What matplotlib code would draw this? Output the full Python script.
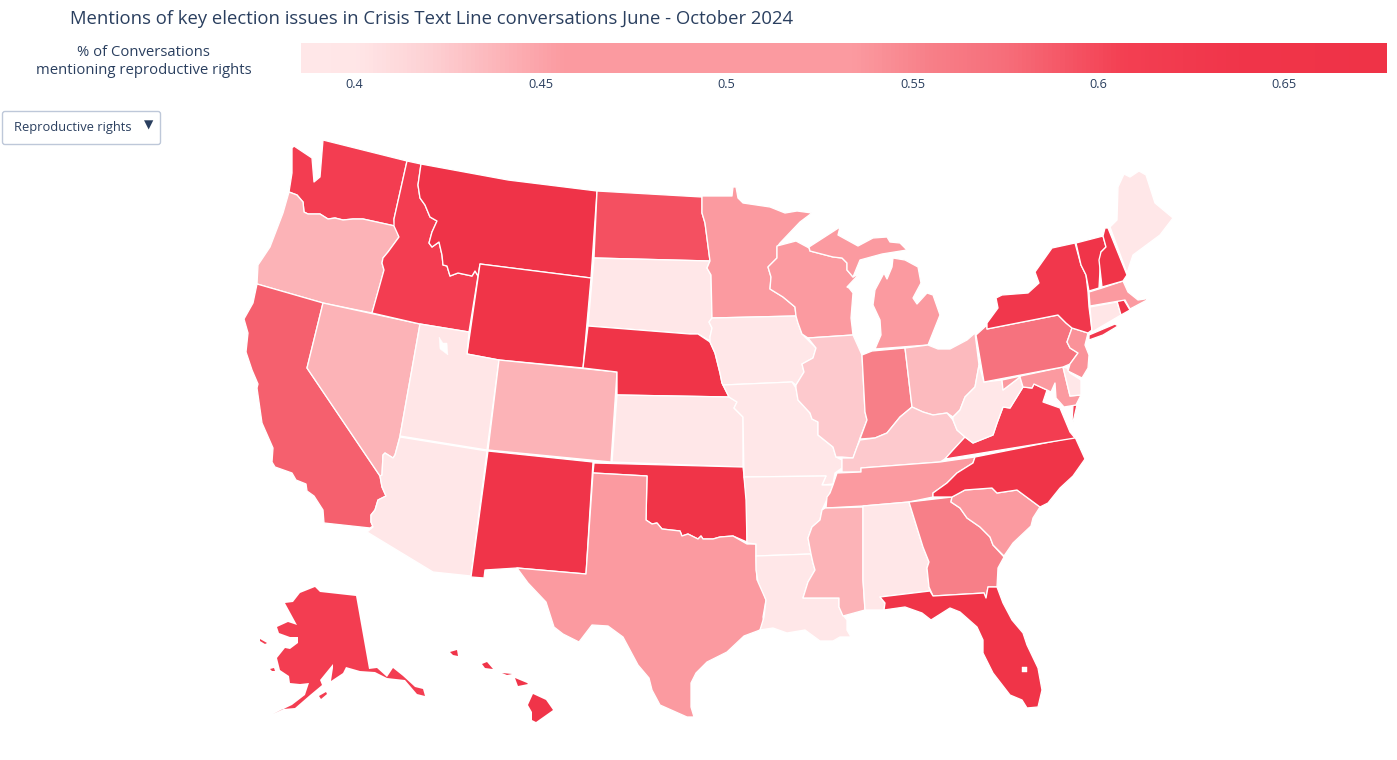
import matplotlib
matplotlib.use("Agg")
import matplotlib.pyplot as plt
import numpy as np
from matplotlib.cm import ScalarMappable
from matplotlib.colors import LinearSegmentedColormap, Normalize
from matplotlib.patches import FancyBboxPatch, Polygon

plt.rcParams["font.family"] = ["Open Sans", "DejaVu Sans"]

TEXT_COLOR = "#2a3f5f"

# share of conversations per state
state_codes = ["WA", "OR", "CA", "NV", "ID", "MT", "WY", "UT", "AZ", "CO", "NM", "ND", "SD", "NE", "KS", "OK",
               "TX", "MN", "IA", "MO", "AR", "LA", "WI", "IL", "MI", "IN", "OH", "KY", "TN", "MS", "AL", "GA",
               "FL", "SC", "NC", "VA", "WV", "MD", "DE", "PA", "NJ", "NY", "CT", "RI", "MA", "VT", "NH", "ME",
               "AK", "HI"]
state_values = [0.612, 0.44, 0.585, 0.44, 0.612, 0.66, 0.65, 0.395, 0.392, 0.44, 0.64, 0.595, 0.393, 0.65, 0.392, 0.65,
                0.48, 0.46, 0.392, 0.392, 0.392, 0.39, 0.48, 0.425, 0.48, 0.555, 0.435, 0.425, 0.485, 0.44, 0.392, 0.555,
                0.65, 0.49, 0.65, 0.612, 0.392, 0.49, 0.39, 0.57, 0.54, 0.63, 0.395, 0.65, 0.475, 0.64, 0.65, 0.39,
                0.612, 0.64]

# colour scale stops
scale_min = 0.3856
scale_max = 0.6776
scale_stops = [0.3856, 0.40, 0.42, 0.456, 0.534, 0.555, 0.575, 0.607, 0.64, 0.6776]
scale_colors = ["#ffe7e8", "#ffe6e7", "#fdd0d3", "#fb9aa0", "#fb9aa0", "#f77f88", "#f66e7a", "#f33f52", "#f03449",
                "#ef3347"]
colorbar_ticks = [0.4, 0.45, 0.5, 0.55, 0.6, 0.65]
colorbar_labels = ["0.4", "0.45", "0.5", "0.55", "0.6", "0.65"]

# state outlines (map geometry, traced in projected map units)
outlines = {
    "WA": [[(292, 148), (294, 146), (312, 158), (314, 182), (320, 177), (323, 140), (407, 161), (394, 219), (395, 226),
            (363, 219), (353, 219), (343, 220), (335, 218), (328, 219), (320, 214), (308, 214), (304, 212), (303, 202),
            (297, 195), (289, 192), (292, 173)]],
    "OR": [[(289, 192), (297, 195), (303, 202), (304, 212), (308, 214), (320, 214), (328, 219), (335, 218), (343, 220),
            (353, 219), (363, 219), (395, 226), (399, 237), (388, 252), (383, 258), (382, 263), (384, 270), (380, 285),
            (372, 313), (323, 303), (257, 284), (258, 265), (270, 247), (283, 213)]],
    "CA": [[(257, 284), (323, 303), (307, 368), (380, 476), (382, 487), (386, 496), (378, 500), (375, 510), (371, 515),
            (371, 522), (373, 526), (370, 528), (324, 523), (323, 510), (314, 496), (307, 491), (306, 484), (296, 480),
            (292, 473), (275, 467), (272, 462), (273, 448), (262, 423), (257, 388), (258, 384), (252, 370), (246, 352),
            (248, 333), (244, 319), (253, 303)]],
    "NV": [[(323, 303), (420, 324), (400, 436), (395, 455), (393, 458), (385, 453), (383, 455), (382, 475), (380, 476),
            (307, 368)]],
    "ID": [[(407, 161), (421, 164), (418, 185), (420, 198), (425, 205), (430, 217), (437, 221), (432, 232), (429, 243),
            (432, 247), (439, 242), (442, 255), (443, 265), (447, 266), (450, 276), (458, 273), (472, 276), (475, 271),
            (478, 276), (469, 332), (420, 324), (372, 313), (384, 270), (382, 263), (383, 258), (388, 252), (399, 237),
            (394, 226), (394, 219)]],
    "MT": [[(421, 164), (508, 180), (597, 191), (591, 278), (480, 264), (478, 276), (475, 271), (472, 276), (458, 273),
            (450, 276), (447, 266), (443, 265), (442, 255), (439, 242), (432, 247), (429, 243), (432, 232), (437, 221),
            (430, 217), (425, 205), (420, 198), (418, 185)]],
    "WY": [[(480, 264), (591, 278), (583, 368), (499, 360), (467, 354)]],
    "UT": [[(420, 324), (469, 332), (467, 354), (499, 360), (487, 450), (400, 436)]],
    "AZ": [[(400, 437), (487, 451), (471, 576), (433, 572), (367, 532), (373, 527), (371, 522), (371, 515), (375, 510),
            (378, 500), (386, 496), (382, 487), (380, 476), (382, 475), (383, 455), (385, 453), (393, 458), (395, 455)]],
    "CO": [[(499, 360), (617, 372), (611, 462), (488, 450)]],
    "NM": [[(488, 451), (593, 462), (586, 574), (517, 568), (485, 570), (484, 578), (471, 577)]],
    "ND": [[(597, 191), (702, 197), (702, 213), (705, 223), (710, 261), (594, 258)]],
    "SD": [[(594, 258), (710, 261), (707, 268), (711, 275), (712, 318), (709, 322), (712, 328), (710, 337), (712, 342),
            (698, 334), (690, 334), (588, 326)]],
    "NE": [[(588, 326), (690, 334), (698, 334), (710, 342), (715, 353), (720, 373), (722, 383), (729, 397), (617, 395),
            (617, 372), (583, 368)]],
    "KS": [[(617, 395), (729, 397), (737, 402), (734, 408), (743, 417), (743, 467), (612, 462)]],
    "OK": [[(594, 463), (743, 467), (747, 500), (747, 542), (733, 536), (720, 537), (713, 539), (703, 539), (701, 536),
            (698, 539), (688, 534), (682, 536), (680, 531), (662, 529), (657, 523), (652, 524), (646, 520), (647, 476),
            (593, 473)]],
    "TX": [[(593, 473), (647, 476), (646, 520), (652, 524), (657, 523), (662, 529), (680, 531), (682, 536), (688, 534),
            (698, 539), (701, 536), (703, 539), (713, 539), (720, 537), (733, 536), (747, 544), (756, 544), (756, 560),
            (757, 580), (760, 583), (766, 600), (763, 617), (764, 623), (760, 630), (744, 636), (727, 652), (707, 662),
            (696, 673), (691, 683), (691, 707), (694, 717), (687, 717), (660, 705), (652, 690), (649, 678), (638, 665),
            (623, 637), (608, 626), (592, 625), (579, 642), (563, 634), (554, 627), (546, 602), (528, 583), (517, 568),
            (586, 574)]],
    "MN": [[(702, 196), (732, 196), (733, 187), (736, 187), (738, 198), (743, 203), (770, 207), (785, 213), (797, 211),
            (812, 213), (800, 222), (780, 243), (777, 247), (777, 258), (768, 267), (771, 277), (770, 289), (783, 297),
            (795, 307), (796, 316), (712, 318), (711, 275), (707, 268), (710, 261), (705, 223), (702, 213)]],
    "IA": [[(712, 318), (796, 316), (798, 323), (802, 334), (816, 348), (813, 358), (802, 364), (804, 372), (796, 385),
            (792, 382), (723, 385), (722, 383), (720, 373), (715, 353), (710, 342), (710, 337), (712, 328), (709, 322)]],
    "MO": [[(723, 385), (792, 382), (796, 388), (798, 400), (810, 413), (812, 419), (818, 422), (818, 435), (833, 447),
            (836, 457), (842, 460), (842, 468), (835, 473), (833, 484), (822, 485), (826, 476), (744, 477), (743, 417),
            (734, 408), (737, 402), (729, 397)]],
    "AR": [[(744, 477), (826, 476), (822, 485), (833, 485), (830, 493), (822, 510), (820, 520), (812, 527), (808, 538),
            (811, 554), (756, 556), (756, 544), (747, 543), (746, 500)]],
    "LA": [[(756, 556), (811, 554), (813, 563), (815, 570), (808, 582), (803, 598), (839, 598), (839, 607), (843, 615),
            (847, 620), (847, 630), (851, 637), (840, 637), (833, 641), (820, 641), (805, 630), (787, 633), (773, 628),
            (760, 630), (764, 617), (766, 600), (758, 582), (756, 570)]],
    "WI": [[(777, 246), (796, 241), (809, 248), (810, 251), (833, 257), (842, 258), (847, 263), (847, 270), (853, 277),
            (860, 273), (847, 287), (849, 288), (853, 293), (851, 318), (853, 335), (808, 338), (802, 334), (798, 323),
            (796, 316), (795, 307), (783, 297), (770, 289), (771, 277), (768, 267), (777, 258)]],
    "IL": [[(808, 338), (853, 335), (862, 355), (865, 412), (867, 420), (860, 438), (857, 447), (853, 458), (842, 457),
            (836, 457), (833, 447), (818, 435), (818, 422), (812, 419), (810, 413), (798, 400), (796, 388), (796, 385),
            (804, 372), (802, 364), (813, 358), (816, 348)]],
    "MI": [[(809, 247), (840, 227), (838, 235), (858, 246), (873, 238), (887, 237), (890, 242), (900, 243), (907, 250),
            (882, 254), (860, 260), (853, 277), (847, 270), (847, 263), (842, 258), (833, 257), (810, 251)],
           [(893, 258), (905, 260), (918, 267), (921, 283), (913, 298), (917, 304), (927, 293), (933, 295), (940, 315),
            (928, 345), (875, 349), (881, 335), (880, 320), (873, 305), (875, 290), (884, 273), (887, 279), (892, 267)]],
    "IN": [[(862, 355), (872, 351), (905, 348), (912, 407), (900, 417), (887, 433), (875, 438), (860, 439), (867, 420),
            (865, 412)]],
    "OH": [[(905, 348), (928, 345), (938, 349), (950, 349), (967, 340), (975, 333), (979, 365), (975, 387), (965, 397),
            (960, 410), (953, 417), (947, 413), (933, 415), (923, 412), (912, 407)]],
    "KY": [[(842, 458), (853, 458), (857, 447), (860, 440), (875, 438), (887, 433), (900, 417), (912, 407), (923, 412),
            (933, 415), (947, 413), (953, 420), (957, 430), (965, 437), (953, 450), (945, 459), (940, 462), (861, 468),
            (861, 472), (842, 472)]],
    "TN": [[(837, 473), (861, 472), (861, 468), (940, 462), (975, 457), (973, 463), (957, 473), (947, 483), (933, 493),
            (933, 497), (909, 502), (863, 506), (826, 508), (827, 497), (830, 493), (833, 485)]],
    "MS": [[(825, 508), (863, 507), (863, 580), (865, 610), (843, 616), (839, 607), (839, 598), (803, 598), (808, 582),
            (815, 570), (813, 563), (811, 554), (808, 538), (812, 527), (820, 520), (822, 510)]],
    "AL": [[(863, 506), (909, 502), (923, 547), (929, 562), (927, 568), (929, 587), (930, 591), (880, 597), (885, 603),
            (884, 610), (865, 610), (863, 580)]],
    "GA": [[(909, 502), (952, 497), (951, 502), (960, 508), (967, 518), (980, 527), (990, 537), (993, 545), (1004, 557),
            (998, 568), (997, 587), (988, 587), (986, 598), (984, 593), (933, 596), (929, 587), (927, 568), (929, 562),
            (923, 547)]],
    "FL": [[(880, 597), (930, 591), (933, 596), (984, 593), (986, 598), (988, 587), (997, 587), (1003, 603), (1012, 620),
            (1023, 633), (1027, 645), (1038, 668), (1042, 690), (1038, 707), (1027, 708), (1022, 700), (1010, 695),
            (993, 673), (983, 653), (983, 640), (977, 627), (960, 612), (950, 608), (931, 620), (922, 613), (905, 607),
            (884, 610), (885, 603)]],
    "SC": [[(951, 502), (952, 497), (965, 490), (992, 488), (997, 493), (1017, 490), (1040, 507), (1033, 518), (1031, 526),
            (1013, 543), (1004, 556), (993, 545), (990, 537), (980, 527), (967, 518), (960, 508)]],
    "NC": [[(975, 457), (1075, 437), (1085, 459), (1073, 476), (1060, 488), (1048, 503), (1040, 507), (1017, 490),
            (997, 493), (992, 488), (965, 490), (952, 497), (933, 497), (933, 493), (947, 483), (957, 473), (973, 463)]],
    "VA": [[(945, 459), (953, 450), (965, 437), (973, 443), (993, 435), (997, 423), (1003, 407), (1010, 408), (1023, 387),
            (1032, 388), (1034, 384), (1047, 390), (1043, 402), (1060, 408), (1070, 432), (1075, 438)],
           [(1073, 405), (1077, 405), (1073, 422), (1072, 422)]],
    "WV": [[(984, 382), (1002, 380), (1003, 390), (1020, 377), (1023, 387), (1010, 408), (1003, 407), (997, 423),
            (993, 435), (973, 443), (965, 437), (957, 430), (953, 420), (953, 417), (960, 410), (965, 397), (975, 387),
            (979, 365)]],
    "MD": [[(1002, 380), (1063, 367), (1070, 396), (1081, 395), (1076, 405), (1064, 407), (1056, 398), (1055, 383),
            (1051, 392), (1047, 390), (1034, 384), (1032, 388), (1023, 387), (1020, 377), (1003, 390)]],
    "DE": [[(1063, 367), (1067, 368), (1070, 373), (1081, 380), (1081, 395), (1070, 396)]],
    "PA": [[(987, 329), (1058, 315), (1066, 323), (1072, 328), (1067, 342), (1070, 348), (1078, 353), (1070, 364),
            (1063, 367), (984, 382), (976, 335), (987, 325)]],
    "NJ": [[(1072, 328), (1088, 333), (1085, 345), (1089, 355), (1088, 368), (1082, 378), (1068, 371), (1070, 364),
            (1078, 353), (1070, 348), (1067, 342)]],
    "NY": [[(987, 329), (987, 323), (998, 308), (996, 298), (1002, 295), (1028, 293), (1039, 283), (1035, 272), (1052, 248),
            (1075, 243), (1081, 265), (1086, 275), (1088, 292), (1089, 307), (1092, 330), (1088, 333), (1072, 328),
            (1066, 323), (1058, 315)],
           [(1089, 335), (1115, 324), (1118, 326), (1103, 335), (1089, 340)]],
    "CT": [[(1090, 307), (1117, 302), (1121, 315), (1092, 332)]],
    "RI": [[(1117, 301), (1124, 300), (1130, 310), (1121, 315)]],
    "MA": [[(1089, 292), (1102, 288), (1123, 281), (1128, 292), (1138, 300), (1145, 299), (1143, 294), (1147, 300),
            (1130, 309), (1125, 300), (1090, 306)]],
    "VT": [[(1076, 243), (1103, 236), (1106, 247), (1101, 252), (1099, 288), (1089, 291), (1086, 275), (1081, 265)]],
    "NH": [[(1105, 228), (1108, 228), (1127, 275), (1123, 281), (1102, 287), (1099, 260), (1101, 252), (1106, 247),
            (1103, 236)]],
    "ME": [[(1110, 227), (1117, 220), (1118, 187), (1124, 174), (1130, 177), (1139, 171), (1146, 175), (1155, 203),
            (1173, 218), (1160, 235), (1133, 255), (1127, 273)]],
    "AK": [[(356, 596), (369, 669), (377, 668), (387, 677), (393, 668), (403, 676), (415, 687), (423, 689), (425, 696),
            (417, 694), (405, 680), (387, 678), (375, 672), (360, 671), (346, 667), (343, 673), (331, 681), (333, 668),
            (333, 664), (320, 680), (322, 685), (310, 695), (295, 708), (283, 709), (273, 714), (292, 705), (305, 695),
            (309, 683), (300, 684), (290, 683), (289, 676), (280, 670), (277, 658), (285, 648), (290, 649), (298, 643),
            (298, 637), (290, 637), (279, 633), (277, 627), (288, 622), (297, 625), (285, 603), (293, 602), (300, 593),
            (315, 587), (320, 592), (347, 595)],
           [(319, 696), (326, 692), (327, 694), (321, 699)],
           [(260, 639), (267, 643), (265, 644), (260, 641)],
           [(270, 669), (274, 668), (275, 671), (272, 671)]],
    "HI": [[(450, 652), (457, 650), (458, 656), (453, 655)],
           [(482, 664), (487, 662), (493, 669), (485, 668)],
           [(502, 673), (512, 674), (507, 675)],
           [(515, 678), (527, 683), (528, 684), (518, 686)],
           [(533, 694), (546, 700), (553, 710), (536, 722), (532, 720), (532, 712), (528, 705)]],
}

# inland water cut out of the states
lakes = [
    [(439, 337), (443, 343), (447, 343), (448, 355), (440, 349)],
    [(1022, 667), (1027, 667), (1027, 672), (1022, 672)],
]

cmap = LinearSegmentedColormap.from_list(
    "repro",
    [((s - scale_min) / (scale_max - scale_min), c) for s, c in zip(scale_stops, scale_colors)],
)
norm = Normalize(scale_min, scale_max)

fig = plt.figure(figsize=(13.97, 7.6), dpi=100)
ax = fig.add_axes([0, 0, 1, 1])
ax.set_xlim(0, 1397)
ax.set_ylim(760, 0)
ax.axis("off")

for code, value in zip(state_codes, state_values):
    # Alaska and Hawaii have nothing to be separated from, and their thin parts need the pixels
    edge_width = 0.0 if code in ("AK", "HI") else 0.95
    for ring in outlines[code]:
        ax.add_patch(Polygon(ring, closed=True, facecolor=cmap(norm(value)),
                             edgecolor="white", linewidth=edge_width, joinstyle="round"))
for ring in lakes:
    ax.add_patch(Polygon(ring, closed=True, facecolor="white", edgecolor="white", linewidth=0.3))

ax.text(70, 18.5, "Mentions of key election issues in Crisis Text Line conversations June - October 2024",
        fontsize=13.35, color=TEXT_COLOR, va="center", ha="left")
ax.text(143.5, 52.5, "% of Conversations", fontsize=10.7, color=TEXT_COLOR, va="center", ha="center")
ax.text(143.5, 70, "mentioning reproductive rights", fontsize=10.7, color=TEXT_COLOR, va="center", ha="center")

# dropdown menu
ax.add_patch(FancyBboxPatch((2.5, 111.5), 158, 33, boxstyle="round,pad=0,rounding_size=2.5",
                            facecolor="white", edgecolor="#bec8d9", linewidth=1.0))
ax.text(14, 128, "Reproductive rights", fontsize=9.25, color=TEXT_COLOR, va="center", ha="left")
ax.text(149, 125, "▼", fontsize=8.7, color=TEXT_COLOR, va="center", ha="center", family="DejaVu Sans")

# horizontal colorbar
cax = fig.add_axes([301 / 1397, 1 - 72.5 / 760, (1387 - 301) / 1397, 29.5 / 760])
cb = fig.colorbar(ScalarMappable(norm=norm, cmap=cmap), cax=cax, orientation="horizontal")
cb.outline.set_visible(False)
cb.set_ticks(colorbar_ticks)
cb.set_ticklabels(colorbar_labels)
cb.ax.tick_params(length=0, pad=4, labelsize=9.2, labelcolor=TEXT_COLOR)

fig.savefig("out.png", dpi=100)
